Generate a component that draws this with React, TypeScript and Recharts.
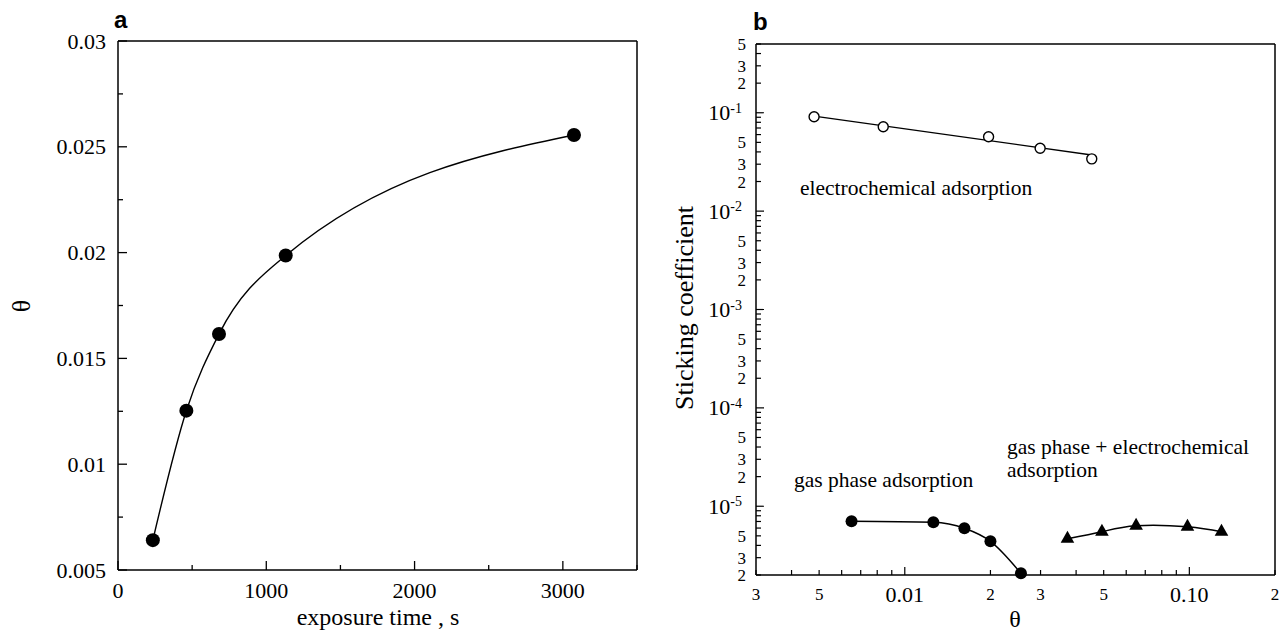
import React from "react";
import { ComposedChart, Line, Scatter, XAxis, YAxis, ReferenceLine } from "recharts";

const SERIF = '"Liberation Serif", "Times New Roman", serif';
const SANS = '"Liberation Sans", Arial, sans-serif';

// ---- panel a : coverage vs exposure time
const exposureTime = [235, 461, 681, 1131, 3075];
const coverageA = [0.00641, 0.01253, 0.01615, 0.01986, 0.02556];
const timeTicks = [0, 500, 1000, 1500, 2000, 2500, 3000, 3500];
const timeLabels = ["0", "", "1000", "", "2000", "", "3000", ""];
const coverageTicks = [0.005, 0.0075, 0.01, 0.0125, 0.015, 0.0175, 0.02, 0.0225, 0.025, 0.0275, 0.03];
const coverageLabels = ["0.005", "", "0.01", "", "0.015", "", "0.02", "", "0.025", "", "0.03"];

// ---- panel b : sticking coefficient vs coverage (log-log)
const echemTheta = [0.0048, 0.0084, 0.0197, 0.0299, 0.0454];
const echemStick = [0.091, 0.072, 0.057, 0.0435, 0.034];
const echemFitTheta = [0.0048, 0.0454];
const echemFitStick = [0.0925, 0.0372];
const gasTheta = [0.0065, 0.0126, 0.0162, 0.02, 0.0256];
const gasStick = [7.04e-6, 6.87e-6, 5.97e-6, 4.4e-6, 2.08e-6];
const mixTheta = [0.0373, 0.0493, 0.065, 0.0985, 0.1297];
const mixStick = [4.67e-6, 5.5e-6, 6.34e-6, 6.19e-6, 5.5e-6];

const thetaTicks = [
  0.003, 0.004, 0.005, 0.006, 0.007, 0.008, 0.009,
  0.01, 0.02, 0.03, 0.04, 0.05, 0.06, 0.07, 0.08, 0.09,
  0.1, 0.2,
];
const thetaLabels = [
  "3", "", "5", "", "", "", "",
  "0.01", "2", "3", "", "5", "", "", "", "",
  "0.10", "2",
];
const stickTicks = [
  2e-6, 3e-6, 4e-6, 5e-6, 6e-6, 7e-6, 8e-6, 9e-6,
  1e-5, 2e-5, 3e-5, 4e-5, 5e-5, 6e-5, 7e-5, 8e-5, 9e-5,
  1e-4, 2e-4, 3e-4, 4e-4, 5e-4, 6e-4, 7e-4, 8e-4, 9e-4,
  1e-3, 2e-3, 3e-3, 4e-3, 5e-3, 6e-3, 7e-3, 8e-3, 9e-3,
  1e-2, 2e-2, 3e-2, 4e-2, 5e-2, 6e-2, 7e-2, 8e-2, 9e-2,
  0.1, 0.2, 0.3, 0.4, 0.5,
];
const stickLabels = [
  "2", "3", "", "5", "", "", "", "",
  "10^-5", "2", "3", "", "5", "", "", "", "",
  "10^-4", "2", "3", "", "5", "", "", "", "",
  "10^-3", "2", "3", "", "5", "", "", "", "",
  "10^-2", "2", "3", "", "5", "", "", "", "",
  "10^-1", "2", "3", "", "5",
];

const toXY = (xs: number[], ys: number[]) => xs.map((x, i) => ({ x, y: ys[i] }));

const pick = (ticks: number[], labels: string[], v: number) => {
  let best = 0;
  ticks.forEach((t, i) => {
    if (Math.abs(t - v) < Math.abs(ticks[best] - v)) best = i;
  });
  return labels[best];
};

// ticks point inward; labels sit outside the frame
function yTickA(p: any) {
  const label = pick(coverageTicks, coverageLabels, p.payload.value);
  const len = label ? 9 : 5;
  return (
    <g>
      <line x1={p.x} y1={p.y} x2={p.x + len} y2={p.y} stroke="#000" strokeWidth={1.3} />
      {label && (
        <text x={p.x - 12} y={p.y + 7.5} textAnchor="end" fontSize={22} fontFamily={SERIF} fill="#000">
          {label}
        </text>
      )}
    </g>
  );
}

function xTickA(p: any) {
  const label = pick(timeTicks, timeLabels, p.payload.value);
  const len = label ? 9 : 5;
  return (
    <g>
      <line x1={p.x} y1={p.y} x2={p.x} y2={p.y - len} stroke="#000" strokeWidth={1.3} />
      {label && (
        <text x={p.x} y={p.y + 28} textAnchor="middle" fontSize={22} fontFamily={SERIF} fill="#000">
          {label}
        </text>
      )}
    </g>
  );
}

function yTickB(p: any) {
  const label = pick(stickTicks, stickLabels, p.payload.value);
  const decade = label.startsWith("10^");
  const len = decade ? 8 : 5;
  return (
    <g>
      <line x1={p.x} y1={p.y} x2={p.x + len} y2={p.y} stroke="#000" strokeWidth={1.2} />
      {decade ? (
        <text x={p.x - 14} y={p.y} textAnchor="end" fontFamily={SERIF} fill="#000">
          <tspan fontSize={22} dy={7.5}>10</tspan>
          <tspan fontSize={14} dy={-7.5}>{label.slice(3)}</tspan>
        </text>
      ) : (
        label && (
          <text x={p.x - 10} y={p.y + 6} textAnchor="end" fontSize={17} fontFamily={SERIF} fill="#000">
            {label}
          </text>
        )
      )}
    </g>
  );
}

function xTickB(p: any) {
  const label = pick(thetaTicks, thetaLabels, p.payload.value);
  const major = label.startsWith("0.");
  const len = major ? 8 : 5;
  return (
    <g>
      <line x1={p.x} y1={p.y} x2={p.x} y2={p.y - len} stroke="#000" strokeWidth={1.2} />
      {label && (
        <text
          x={p.x}
          y={p.y + (major ? 27 : 25)}
          textAnchor="middle"
          fontSize={major ? 22 : 17}
          fontFamily={SERIF}
          fill="#000"
        >
          {label}
        </text>
      )}
    </g>
  );
}

const filledDot = (r: number) => (p: any) => <circle cx={p.cx} cy={p.cy} r={r} fill="#000" />;
const openDot = (p: any) => (
  <circle cx={p.cx} cy={p.cy} r={5} fill="#fff" stroke="#000" strokeWidth={1.4} />
);
const triangle = (p: any) => {
  const h = 12;
  const w = 6.8;
  return (
    <path
      d={`M${p.cx},${p.cy - (2 * h) / 3} L${p.cx + w},${p.cy + h / 3} L${p.cx - w},${p.cy + h / 3} Z`}
      fill="#000"
    />
  );
};

const axisLine = { stroke: "#000", strokeWidth: 1.5 };

function PanelA() {
  const pts = toXY(exposureTime, coverageA);
  return (
    <ComposedChart width={660} height={632} margin={{ top: 41, right: 23, bottom: 61, left: 117 }}>
      <XAxis
        type="number"
        dataKey="x"
        domain={[0, 3500]}
        ticks={timeTicks}
        interval={0}
        height={1}
        tickSize={0}
        tickMargin={0}
        tickLine={false}
        axisLine={axisLine}
        tick={xTickA}
      />
      <YAxis
        type="number"
        dataKey="y"
        domain={[0.005, 0.03]}
        ticks={coverageTicks}
        interval={0}
        width={1}
        tickSize={0}
        tickMargin={0}
        tickLine={false}
        axisLine={axisLine}
        tick={yTickA}
      />
      <ReferenceLine y={0.03} stroke="#000" strokeWidth={1.5} />
      <ReferenceLine x={3500} stroke="#000" strokeWidth={1.5} />
      <Line
        data={pts}
        dataKey="y"
        type="monotone"
        stroke="#000"
        strokeWidth={1.4}
        dot={false}
        activeDot={false}
        isAnimationActive={false}
      />
      <Scatter data={pts} dataKey="y" shape={filledDot(7)} isAnimationActive={false} />
    </ComposedChart>
  );
}

function PanelB() {
  const echem = toXY(echemTheta, echemStick);
  const echemFit = toXY(echemFitTheta, echemFitStick);
  const gas = toXY(gasTheta, gasStick);
  const mix = toXY(mixTheta, mixStick);
  const lineProps = {
    dataKey: "y",
    stroke: "#000",
    strokeWidth: 1.4,
    dot: false,
    activeDot: false,
    isAnimationActive: false,
  } as const;
  return (
    <ComposedChart width={644} height={632} margin={{ top: 44, right: 9, bottom: 56, left: 115 }}>
      <XAxis
        type="number"
        dataKey="x"
        scale="log"
        domain={[0.003, 0.2]}
        ticks={thetaTicks}
        interval={0}
        height={1}
        tickSize={0}
        tickMargin={0}
        tickLine={false}
        axisLine={axisLine}
        tick={xTickB}
      />
      <YAxis
        type="number"
        dataKey="y"
        scale="log"
        domain={[2e-6, 0.5]}
        ticks={stickTicks}
        interval={0}
        width={1}
        tickSize={0}
        tickMargin={0}
        tickLine={false}
        axisLine={axisLine}
        tick={yTickB}
      />
      <ReferenceLine y={0.5} stroke="#000" strokeWidth={1.5} />
      <ReferenceLine x={0.2} stroke="#000" strokeWidth={1.5} />
      <Line data={echemFit} type="linear" {...lineProps} />
      <Line data={gas} type="monotone" {...lineProps} />
      <Line data={mix} type="natural" {...lineProps} />
      <Scatter data={echem} dataKey="y" shape={openDot} isAnimationActive={false} />
      <Scatter data={gas} dataKey="y" shape={filledDot(6)} isAnimationActive={false} />
      <Scatter data={mix} dataKey="y" shape={triangle} isAnimationActive={false} />
    </ComposedChart>
  );
}

export default function App() {
  return (
    <div style={{ position: "absolute", left: 0, top: 0, width: 1284, height: 632, background: "#fff" }}>
      <div style={{ position: "absolute", left: 0, top: 0 }}>
        <PanelA />
      </div>
      <div style={{ position: "absolute", left: 640, top: 0 }}>
        <PanelB />
      </div>
      <svg
        width={1284}
        height={632}
        style={{ position: "absolute", left: 0, top: 0, pointerEvents: "none" }}
      >
        <g fontFamily={SERIF} fill="#000">
          <text x={114} y={28} fontFamily={SANS} fontWeight="bold" fontSize={24}>a</text>
          <text x={753} y={30} fontFamily={SANS} fontWeight="bold" fontSize={24}>b</text>
          <text x={21} y={306} fontSize={26} textAnchor="middle" dominantBaseline="central" transform="rotate(-90 21 306)">
            θ
          </text>
          <text x={378} y={625} fontSize={24} textAnchor="middle">exposure time , s</text>
          <text x={684} y={308} fontSize={26} textAnchor="middle" dominantBaseline="central" transform="rotate(-90 684 308)">
            Sticking coefficient
          </text>
          <text x={1015} y={627} fontSize={24} textAnchor="middle">θ</text>
          <text x={800} y={195} fontSize={21.5}>electrochemical adsorption</text>
          <text x={794} y={487} fontSize={21.5}>gas phase adsorption</text>
          <text x={1007} y={454} fontSize={21.5}>gas phase + electrochemical</text>
          <text x={1007} y={477} fontSize={21.5}>adsorption</text>
        </g>
      </svg>
    </div>
  );
}
